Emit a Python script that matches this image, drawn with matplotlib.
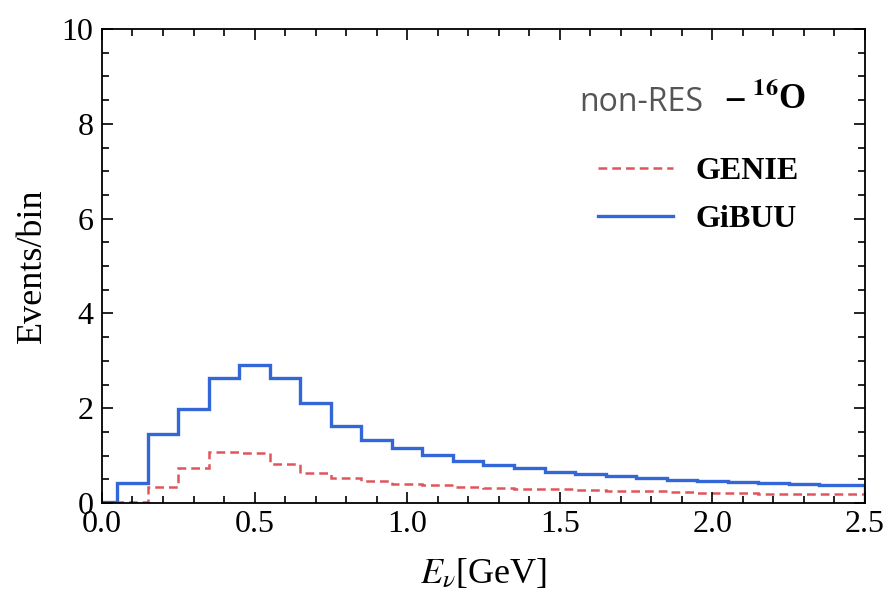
import matplotlib
matplotlib.use("Agg")
import matplotlib.pyplot as plt
from matplotlib.ticker import MultipleLocator, FormatStrFormatter

# bin edges in GeV (0.1 GeV bins centred on 0.1, 0.2, ...)
bin_edges = [0.0, 0.05, 0.15, 0.25, 0.35, 0.45, 0.55, 0.65, 0.75, 0.85, 0.95,
             1.05, 1.15, 1.25, 1.35, 1.45, 1.55, 1.65, 1.75, 1.85, 1.95,
             2.05, 2.15, 2.25, 2.35, 2.45, 2.5]
gibuu = [0.02, 0.43, 1.46, 1.98, 2.63, 2.91, 2.63, 2.12, 1.62, 1.34, 1.17,
         1.02, 0.88, 0.80, 0.73, 0.66, 0.62, 0.57, 0.52, 0.49, 0.47,
         0.45, 0.43, 0.41, 0.39, 0.38]
genie = [0.03, 0.03, 0.34, 0.73, 1.07, 1.05, 0.82, 0.64, 0.52, 0.46, 0.41,
         0.37, 0.34, 0.32, 0.30, 0.29, 0.27, 0.26, 0.25, 0.24, 0.22,
         0.21, 0.20, 0.19, 0.19, 0.18]

plt.rcParams['font.family'] = ['Liberation Serif', 'DejaVu Serif']
plt.rcParams['mathtext.fontset'] = 'stix'

fig = plt.figure(figsize=(8.92, 5.96), dpi=100)
ax = fig.add_axes([0.1143, 0.156, 0.8554, 0.7953])

ax.stairs(genie, bin_edges, color='#e0555c', lw=1.8, ls=(0, (3.5, 2)), label='GENIE')
ax.stairs(gibuu, bin_edges, color='#3366d6', lw=2.4, label='GiBUU')

ax.set_xlim(0, 2.5)
ax.set_ylim(0, 10)
ax.xaxis.set_major_locator(MultipleLocator(0.5))
ax.xaxis.set_minor_locator(MultipleLocator(0.1))
ax.yaxis.set_major_locator(MultipleLocator(2))
ax.yaxis.set_minor_locator(MultipleLocator(0.5))
ax.xaxis.set_major_formatter(FormatStrFormatter('%.1f'))
ax.tick_params(which='both', direction='in', top=True, right=True, labelsize=23, width=1.2)
ax.tick_params(which='major', length=8)
ax.tick_params(which='minor', length=5)
ax.tick_params(axis='x', pad=5)
ax.tick_params(axis='y', pad=6)
for s in ax.spines.values():
    s.set_linewidth(1.3)

ax.set_xlabel(r'$E_{\nu}$[GeV]', fontsize=26, labelpad=13)
ax.set_ylabel('Events/bin', fontsize=26, labelpad=9)

ax.text(0.626, 0.844, 'non-RES', transform=ax.transAxes, fontsize=23,
        family='Open Sans', color='#555555', va='center')
ax.text(0.818, 0.850, r'– $^{\mathbf{16}}$O', transform=ax.transAxes, fontsize=25,
        fontweight='bold', va='center')

leg = ax.legend(loc='upper left', bbox_to_anchor=(0.629, 0.765), frameon=False,
                prop={'size': 23, 'weight': 'bold'}, handlelength=2.35,
                handletextpad=0.7, labelspacing=0.6, borderpad=0)

fig.savefig('out.png', dpi=100)
